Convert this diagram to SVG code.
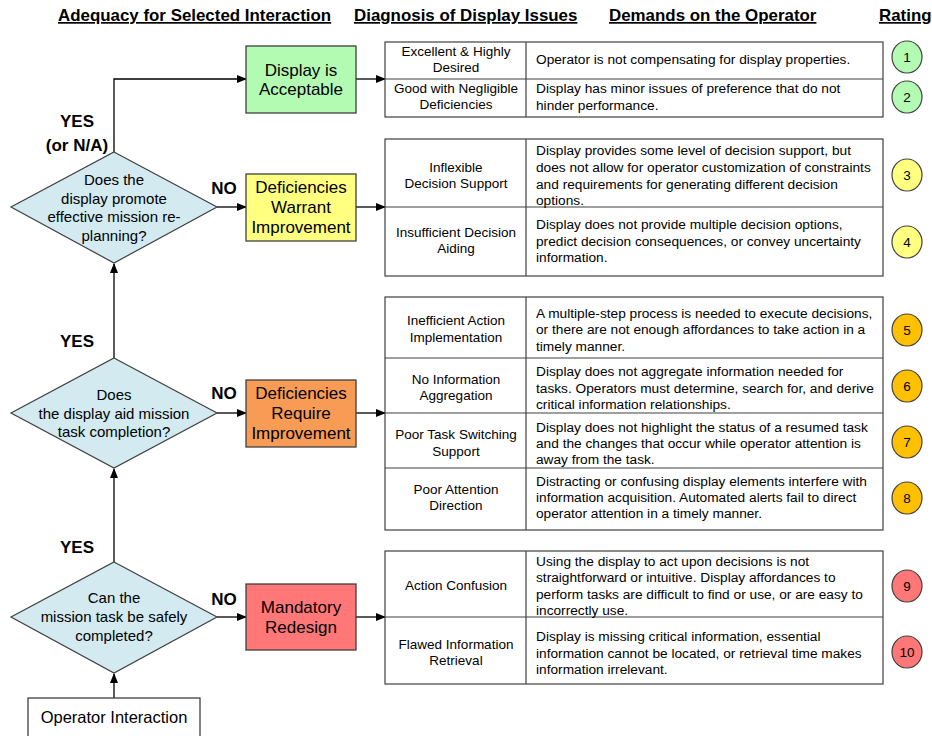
<svg xmlns="http://www.w3.org/2000/svg" width="932" height="736" viewBox="0 0 932 736">
<defs>
<marker id="arr" markerWidth="10" markerHeight="8" refX="9" refY="4" orient="auto" markerUnits="userSpaceOnUse">
<path d="M0,0 L10,4 L0,8 Z" fill="#000"/>
</marker>
<style>
text{font-family:"Liberation Sans",Arial,sans-serif;fill:#000}
.hd{font-size:16.9px;font-weight:bold;text-decoration:underline}
.lbl{font-size:17px;font-weight:bold;text-anchor:middle}
.bx{stroke:#404040;stroke-width:1.3}
.bt{font-size:17px;text-anchor:middle}
.dm{fill:#d2eaf0;stroke:#404040;stroke-width:1.2}
.dt{font-size:15px;text-anchor:middle}
.tb{fill:#fff;stroke:#404040;stroke-width:1.2}
.tl{font-size:13.5px;text-anchor:middle}
.tr{font-size:13.7px}
.ci{stroke:#404040;stroke-width:1.2}
.cn{font-size:13.5px;text-anchor:middle}
.cx{fill:none;stroke:#000;stroke-width:1.3}
</style>
</defs>
<rect width="932" height="736" fill="#fff"/>

<g id="headers">
<text class="hd" x="58" y="21">Adequacy for Selected Interaction</text>
<text class="hd" x="354" y="21">Diagnosis of Display Issues</text>
<text class="hd" x="609" y="21">Demands on the Operator</text>
<text class="hd" x="879" y="21">Rating</text>
</g>

<g id="connectors">
<path class="cx" d="M114,698 L114,674" marker-end="url(#arr)"/>
<path class="cx" d="M114,562 L114,469" marker-end="url(#arr)"/>
<path class="cx" d="M114,358 L114,264" marker-end="url(#arr)"/>
<path class="cx" d="M114,152 L114,79 L246,79" marker-end="url(#arr)"/>
<path class="cx" d="M217,207 L246,207" marker-end="url(#arr)"/>
<path class="cx" d="M217,413 L246,413" marker-end="url(#arr)"/>
<path class="cx" d="M217,617 L246,617" marker-end="url(#arr)"/>
<path class="cx" d="M356,79 L385,79" marker-end="url(#arr)"/>
<path class="cx" d="M356,207 L385,207" marker-end="url(#arr)"/>
<path class="cx" d="M356,413 L385,413" marker-end="url(#arr)"/>
<path class="cx" d="M356,617 L385,617" marker-end="url(#arr)"/>
</g>

<g id="labels">
<text class="lbl" x="77" y="127">YES</text>
<text class="lbl" x="77" y="151">(or N/A)</text>
<text class="lbl" x="224" y="194">NO</text>
<text class="lbl" x="77" y="347">YES</text>
<text class="lbl" x="224" y="399">NO</text>
<text class="lbl" x="77" y="553">YES</text>
<text class="lbl" x="224" y="605">NO</text>
</g>

<g id="operator-interaction">
<rect class="bx" x="28" y="698" width="172" height="44" fill="#fff"/>
<text class="bt" x="114" y="723" style="font-size:16.5px">Operator Interaction</text>
</g>

<g id="q-safe">
<polygon class="dm" points="114,562 217,617 114,673 11,617"/>
<text class="dt" x="114" y="603">Can the</text>
<text class="dt" x="114" y="622">mission task be safely</text>
<text class="dt" x="114" y="641">completed?</text>
</g>

<g id="q-aid">
<polygon class="dm" points="114,358 217,413 114,468 11,413"/>
<text class="dt" x="114" y="400">Does</text>
<text class="dt" x="114" y="418.5">the display aid mission</text>
<text class="dt" x="114" y="437">task completion?</text>
</g>

<g id="q-replan">
<polygon class="dm" points="114,152 217,207 114,263 11,207"/>
<text class="dt" x="114" y="185">Does the</text>
<text class="dt" x="114" y="203.5">display promote</text>
<text class="dt" x="114" y="222">effective mission re-</text>
<text class="dt" x="114" y="240.5">planning?</text>
</g>

<g id="box-acceptable">
<rect class="bx" x="246" y="46" width="110" height="67" fill="#b3fbb3"/>
<text class="bt" x="301" y="76">Display is</text>
<text class="bt" x="301" y="95">Acceptable</text>
</g>

<g id="box-warrant">
<rect class="bx" x="246" y="174" width="110" height="67" fill="#ffff80"/>
<text class="bt" x="301" y="193">Deficiencies</text>
<text class="bt" x="301" y="213">Warrant</text>
<text class="bt" x="301" y="233">Improvement</text>
</g>

<g id="box-require">
<rect class="bx" x="246" y="380" width="110" height="67" fill="#f79b55"/>
<text class="bt" x="301" y="399">Deficiencies</text>
<text class="bt" x="301" y="419">Require</text>
<text class="bt" x="301" y="439">Improvement</text>
</g>

<g id="box-redesign">
<rect class="bx" x="246" y="584" width="110" height="66" fill="#ff7777"/>
<text class="bt" x="301" y="613">Mandatory</text>
<text class="bt" x="301" y="633">Redesign</text>
</g>

<g id="table-acceptable">
<rect class="tb" x="385" y="42" width="498" height="75"/>
<line class="tb" x1="526" y1="42" x2="526" y2="117"/>
<line class="tb" x1="385" y1="79" x2="883" y2="79"/>
<text class="tl" x="456" y="56">Excellent &amp; Highly</text>
<text class="tl" x="456" y="72">Desired</text>
<text class="tr" x="536" y="64">Operator is not compensating for display properties.</text>
<text class="tl" x="456" y="93">Good with Negligible</text>
<text class="tl" x="456" y="109">Deficiencies</text>
<text class="tr" x="536" y="93">Display has minor issues of preference that do not</text>
<text class="tr" x="536" y="110">hinder performance.</text>
</g>

<g id="table-warrant">
<rect class="tb" x="385" y="139" width="498" height="137"/>
<line class="tb" x1="526" y1="139" x2="526" y2="276"/>
<line class="tb" x1="385" y1="207" x2="883" y2="207"/>
<text class="tl" x="456" y="172">Inflexible</text>
<text class="tl" x="456" y="188">Decision Support</text>
<text class="tr" x="536" y="155">Display provides some level of decision support, but</text>
<text class="tr" x="536" y="172">does not allow for operator customization of constraints</text>
<text class="tr" x="536" y="189">and requirements for generating different decision</text>
<text class="tr" x="536" y="205">options.</text>
<text class="tl" x="456" y="237">Insufficient Decision</text>
<text class="tl" x="456" y="253">Aiding</text>
<text class="tr" x="536" y="229">Display does not provide multiple decision options,</text>
<text class="tr" x="536" y="246">predict decision consequences, or convey uncertainty</text>
<text class="tr" x="536" y="262">information.</text>
</g>

<g id="table-require">
<rect class="tb" x="385" y="297" width="498" height="233"/>
<line class="tb" x1="526" y1="297" x2="526" y2="530"/>
<line class="tb" x1="385" y1="358" x2="883" y2="358"/>
<line class="tb" x1="385" y1="413" x2="883" y2="413"/>
<line class="tb" x1="385" y1="468" x2="883" y2="468"/>
<text class="tl" x="456" y="325">Inefficient Action</text>
<text class="tl" x="456" y="342">Implementation</text>
<text class="tr" x="536" y="318">A multiple-step process is needed to execute decisions,</text>
<text class="tr" x="536" y="334">or there are not enough affordances to take action in a</text>
<text class="tr" x="536" y="351">timely manner.</text>
<text class="tl" x="456" y="384">No Information</text>
<text class="tl" x="456" y="400">Aggregation</text>
<text class="tr" x="536" y="376">Display does not aggregate information needed for</text>
<text class="tr" x="536" y="393">tasks. Operators must determine, search for, and derive</text>
<text class="tr" x="536" y="409">critical information relationships.</text>
<text class="tl" x="456" y="439">Poor Task Switching</text>
<text class="tl" x="456" y="456">Support</text>
<text class="tr" x="536" y="432">Display does not highlight the status of a resumed task</text>
<text class="tr" x="536" y="448">and the changes that occur while operator attention is</text>
<text class="tr" x="536" y="464">away from the task.</text>
<text class="tl" x="456" y="494">Poor Attention</text>
<text class="tl" x="456" y="510">Direction</text>
<text class="tr" x="536" y="486">Distracting or confusing display elements interfere with</text>
<text class="tr" x="536" y="502">information acquisition. Automated alerts fail to direct</text>
<text class="tr" x="536" y="518">operator attention in a timely manner.</text>
</g>

<g id="table-redesign">
<rect class="tb" x="385" y="551" width="498" height="133"/>
<line class="tb" x1="526" y1="551" x2="526" y2="684"/>
<line class="tb" x1="385" y1="617" x2="883" y2="617"/>
<text class="tl" x="456" y="590">Action Confusion</text>
<text class="tr" x="536" y="566">Using the display to act upon decisions is not</text>
<text class="tr" x="536" y="582">straightforward or intuitive. Display affordances to</text>
<text class="tr" x="536" y="599">perform tasks are difficult to find or use, or are easy to</text>
<text class="tr" x="536" y="615">incorrectly use.</text>
<text class="tl" x="456" y="649">Flawed Information</text>
<text class="tl" x="456" y="665">Retrieval</text>
<text class="tr" x="536" y="641">Display is missing critical information, essential</text>
<text class="tr" x="536" y="658">information cannot be located, or retrieval time makes</text>
<text class="tr" x="536" y="674">information irrelevant.</text>
</g>

<g id="ratings">
<ellipse class="ci" cx="907" cy="57" rx="15" ry="16" fill="#b3fbb3"/><text class="cn" x="907" y="62">1</text>
<ellipse class="ci" cx="907" cy="97" rx="15" ry="16" fill="#b3fbb3"/><text class="cn" x="907" y="102">2</text>
<ellipse class="ci" cx="907" cy="175" rx="15" ry="16" fill="#ffff80"/><text class="cn" x="907" y="180">3</text>
<ellipse class="ci" cx="907" cy="242" rx="15" ry="16" fill="#ffff80"/><text class="cn" x="907" y="247">4</text>
<ellipse class="ci" cx="907" cy="330" rx="15" ry="16" fill="#ffc000"/><text class="cn" x="907" y="335">5</text>
<ellipse class="ci" cx="907" cy="386" rx="15" ry="16" fill="#ffc000"/><text class="cn" x="907" y="391">6</text>
<ellipse class="ci" cx="907" cy="442" rx="15" ry="16" fill="#ffc000"/><text class="cn" x="907" y="447">7</text>
<ellipse class="ci" cx="907" cy="498" rx="15" ry="16" fill="#ffc000"/><text class="cn" x="907" y="503">8</text>
<ellipse class="ci" cx="907" cy="586" rx="15" ry="16" fill="#ff7777"/><text class="cn" x="907" y="591">9</text>
<ellipse class="ci" cx="907" cy="652" rx="15" ry="16" fill="#ff7777"/><text class="cn" x="907" y="657">10</text>
</g>
</svg>
